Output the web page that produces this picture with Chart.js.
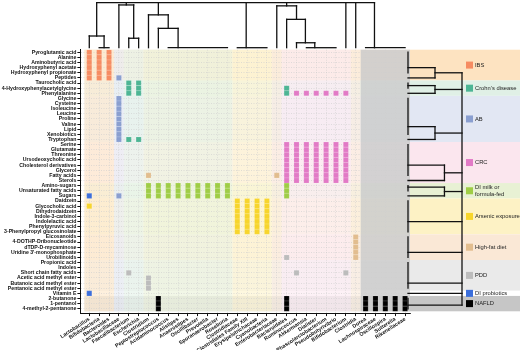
<!DOCTYPE html>
<html lang="en">
<head>
<meta charset="UTF-8">
<title>Bacteria x metabolites</title>
<script src="https://cdn.jsdelivr.net/npm/chart.js"></script>
<style>
    body { margin: 0; background: #fff; }
    #wrap { width: 520px; height: 350px; }
</style>
</head>
<body>
<div id="wrap"><canvas id="grafico"></canvas></div>
<script>
// colunas (bacterias)
const bacterias = ['Lactobacillus', 'Bifidobacteria', 'Bacteroides', 'Lactobacillaceae', 'Faecalibacterium',
    'Escherichia', 'Clostridium', 'Peptostreptococcus', 'Acidaminococcus', 'Alistipes', 'Anaerostipes',
    'Oscillibacter', 'Prevotella', 'Sporanaerobacter', 'Roseburia', 'Clostridiaceae', 'Clostridiales Family XIII',
    'Erysipelotrichaceae', 'Cyanobacteria', 'Enterobacteriaceae', 'Bacteroidales', 'Ruminococcus', 'Akkermansia',
    'Dialister', 'Phascolarctobacterium', 'Pseudobutyrivibrio', 'Bifidobacterium', 'Clostridia', 'Dorea',
    'Lachnospiraceae', 'Oscillospira', 'Sutterella', 'Rikenellaceae'];

// linhas (metabolitos)
const metabolitos = ['Pyroglutamic acid', 'Alanine', 'Aminobutyric acid', 'Hydroxyphenyl acetate',
    'Hydroxyphenyl propionate', 'Peptides', 'Taurocholic acid', '4-Hydroxyphenylacetylglycine', 'Phenylalanine',
    'Glycine', 'Cysteine', 'Isoleucine', 'Leucine', 'Proline', 'Valine', 'Lipid', 'Xenobiotics', 'Tryptophan',
    'Serine', 'Glutamate', 'Threonine', 'Ursodeoxycholic acid', 'Cholesterol derivatives', 'Glycerol',
    'Fatty acids', 'Sterols', 'Amino-sugars', 'Unsaturated fatty acids', 'Sugars', 'Daidzein', 'Glycocholic acid',
    'Dihydrodaidzein', 'Indole-3-carbinol', 'Indolelactic acid', 'Phenylpyruvic acid',
    '3-Phenylpropyl glucosinolate', 'Eicosanoids', '4-DOTHP-Dribonucleotide', 'dTDP-D-mycaminose',
    "Uridine 3'-monophosphate", 'Urobilinoids', 'Propionic acid', 'Indoles', 'Short chain fatty acids',
    'Acetic acid methyl ester', 'Butanoic acid methyl ester', 'Pentanoic acid methyl ester', 'Vitamin E',
    '2-butanone', '1-pentanol', '4-methyl-2-pentanone'];

const grupos = ['IBS', "Crohn's disease", 'AB', 'CRC', 'DI milk or formula-fed', 'Arsenic exposure',
    'High-fat diet', 'PDD', 'DI probiotics', 'NAFLD'];
const coresGrupo = ['#f68c62', '#4db594', '#8a9fd0', '#e27ac6', '#9fcd46', '#f7d52c', '#e2bd8e', '#bcbcbc', '#3b6edb', '#000000'];
const fundoGrupo = ['#fde3c1', '#e0f0e6', '#e2e7f3', '#fbe6ee', '#e8f1d4', '#fdf2c5', '#fae8d6', '#eaeaea', '#ffffff', '#c6c6c6'];

// primeira e ultima linha de cada grupo
const linhasGrupo = [[0, 5], [6, 8], [9, 17], [18, 25], [26, 28], [29, 35], [36, 40], [41, 46], [47, 47], [48, 50]];
// faixas verticais: [primeira coluna, ultima coluna, grupo]
const colunasGrupo = [[0, 2, 0], [3, 3, 2], [4, 5, 1], [6, 14, 4], [15, 18, 5], [19, 19, 6], [20, 26, 3], [27, 27, 6], [28, 32, 9]];

// associacoes: [coluna, [linhas]]
const ibs = [[0, [0, 1, 2, 3, 4, 5]], [1, [0, 1, 2, 3, 4, 5]], [2, [0, 1, 2, 3, 4, 5]]];
const crohn = [[4, [6, 7, 8, 17]], [5, [6, 7, 8, 17]], [20, [7, 8]]];
const ab = [[3, [5, 9, 10, 11, 12, 13, 14, 15, 16, 17, 28]]];
const crc = [[20, [18, 19, 20, 21, 22, 23, 24, 25]], [21, [8, 18, 19, 20, 21, 22, 23, 24, 25]],
    [22, [8, 18, 19, 20, 21, 22, 23, 24, 25]], [23, [8, 18, 19, 20, 21, 22, 23, 24, 25]],
    [24, [8, 18, 19, 20, 21, 22, 23, 24, 25]], [25, [8, 18, 19, 20, 21, 22, 23, 24, 25]],
    [26, [8, 18, 19, 20, 21, 22, 23, 24, 25]]];
const leite = [[6, [26, 27, 28]], [7, [26, 27, 28]], [8, [26, 27, 28]], [9, [26, 27, 28]], [10, [26, 27, 28]],
    [11, [26, 27, 28]], [12, [26, 27, 28]], [13, [26, 27, 28]], [14, [26, 27, 28]], [20, [26, 27, 28]]];
const arsenico = [[0, [30]], [15, [29, 30, 31, 32, 33, 34, 35]], [16, [29, 30, 31, 32, 33, 34, 35]],
    [17, [29, 30, 31, 32, 33, 34, 35]], [18, [29, 30, 31, 32, 33, 34, 35]]];
const gordura = [[6, [24]], [19, [24]], [27, [36, 37, 38, 39, 40]]];
const pdd = [[4, [43]], [6, [44, 45, 46]], [20, [40]], [21, [43]], [26, [43]]];
const probioticos = [[0, [28, 47]]];
const nafld = [[7, [48, 49, 50]], [20, [48, 49, 50]], [28, [48, 49, 50]], [29, [48, 49, 50]],
    [30, [48, 49, 50]], [31, [48, 49, 50]], [32, [48, 49, 50]]];
const associacoes = [ibs, crohn, ab, crc, leite, arsenico, gordura, pdd, probioticos, nafld];

// dendrograma das colunas: segmentos [coluna1, altura1, coluna2, altura2]
const dendroTopo = [
    [1, 0, 2, 0], [0, 0, 0, 0.26], [1.5, 0, 1.5, 0.26], [0, 0.26, 1.5, 0.26], [0.75, 0.26, 0.75, 1],
    [4, 0, 4, 0.21], [5, 0, 5, 0.21], [4, 0.21, 5, 0.21], [3, 0, 3, 0.95], [4.5, 0.21, 4.5, 0.95], [3, 0.95, 4.5, 0.95], [3.75, 0.95, 3.75, 1],
    [8, 0, 14, 0], [9, 0, 9, 0.43], [7, 0, 7, 0.43], [7, 0.43, 9, 0.43], [6, 0, 6, 0.73], [8, 0.43, 8, 0.73], [6, 0.73, 8, 0.73], [7, 0.73, 7, 1],
    [15, 0, 18, 0], [15.9, 0, 15.9, 1],
    [22, 0, 25, 0], [22.85, 0, 22.85, 0.11], [21, 0, 21, 0.11], [21, 0.11, 22.85, 0.11], [20, 0, 20, 0.63], [21.9, 0.11, 21.9, 0.63],
    [20, 0.63, 21.9, 0.63], [19, 0, 19, 0.93], [21, 0.63, 21, 0.93], [19, 0.93, 21, 0.93], [20, 0.93, 20, 1],
    [26, 0, 26, 1], [27, 0, 27, 1],
    [28, 0, 32, 0], [28.9, 0, 28.9, 1],
    [0.75, 1, 28.9, 1]
];

// dendrograma das linhas: [linha1, nivel1, linha2, nivel2], nivel 0 = folha
const dendroLado = [
    [0, 0, 4, 0], [3, 0, 3, 1], [5, 0, 5, 1], [3, 1, 5, 1], [4, 1, 4, 2],
    [6, 0, 7, 0], [6.5, 0, 6.5, 1], [8, 0, 8, 1], [6.5, 1, 8, 1], [7.25, 1, 7.25, 2],
    [9, 0, 16, 0], [14.5, 0, 14.5, 1], [17, 0, 17, 1], [14.5, 1, 17, 1], [15.75, 1, 15.75, 2],
    [18, 0, 24, 0], [22, 0, 22, 1.35], [25, 0, 25, 1.35], [22, 1.35, 25, 1.35], [23.5, 1.35, 23.5, 2],
    [26, 0, 27, 0], [26.3, 0, 26.3, 1.35], [28, 0, 28, 1.35], [26.3, 1.35, 28, 1.35], [27.15, 1.35, 27.15, 2],
    [29, 0, 35, 0], [33, 0, 33, 2],
    [36, 0, 40, 0], [39, 0, 39, 2],
    [41, 0, 46, 0], [45, 0, 45, 2],
    [47, 0, 47, 2],
    [48, 0, 50, 0], [49.3, 0, 49.3, 2],
    [4, 2, 49.3, 2]
];

const pontos = associacoes.map(function (lista) {
    const dados = [];
    lista.forEach(function (item) {
        item[1].forEach(function (linha) { dados.push({ x: item[0], y: linha }); });
    });
    return dados;
});

const fundoPlugin = {
    id: 'fundo',
    beforeDraw(chart) {
        const ctx = chart.ctx;
        const sx = chart.scales.x, sy = chart.scales.y;
        const meiaC = (sx.getPixelForValue(1) - sx.getPixelForValue(0)) / 2;
        const meiaL = (sy.getPixelForValue(1) - sy.getPixelForValue(0)) / 2;
        const x0 = sx.getPixelForValue(0) - meiaC, x1 = sx.getPixelForValue(bacterias.length - 1) + meiaC;
        const yTopo = sy.getPixelForValue(0) - meiaL;
        const yBase = sy.getPixelForValue(metabolitos.length - 1) + meiaL;
        ctx.save();
        // faixas horizontais: painel da direita forte, area do grafico fraca
        linhasGrupo.forEach(function (g, i) {
            const y0 = sy.getPixelForValue(g[0]) - meiaL, y1 = sy.getPixelForValue(g[1]) + meiaL;
            ctx.fillStyle = fundoGrupo[i];
            ctx.fillRect(x1, y0, chart.width - x1, y1 - y0);
            ctx.globalAlpha = 0.45;
            ctx.fillRect(x0, y0, x1 - x0, y1 - y0);
            ctx.globalAlpha = 1;
        });
        // faixas verticais
        colunasGrupo.forEach(function (g) {
            const c0 = sx.getPixelForValue(g[0]) - meiaC, c1 = sx.getPixelForValue(g[1]) + meiaC;
            ctx.globalAlpha = g[2] === 9 ? 0.75 : 0.55;
            ctx.fillStyle = fundoGrupo[g[2]];
            ctx.fillRect(c0, yTopo, c1 - c0, yBase - yTopo);
        });
        ctx.restore();
    },
    afterDraw(chart) {
        const ctx = chart.ctx, a = chart.chartArea;
        const sx = chart.scales.x, sy = chart.scales.y;
        ctx.save();
        ctx.strokeStyle = '#111';
        ctx.lineWidth = 1.3;
        ctx.lineCap = 'square';
        // dendrograma de cima
        const base = a.top - 2, alt = 45;
        dendroTopo.forEach(function (s) {
            ctx.beginPath();
            ctx.moveTo(sx.getPixelForValue(s[0]), base - s[1] * alt);
            ctx.lineTo(sx.getPixelForValue(s[2]), base - s[3] * alt);
            ctx.stroke();
        });
        // dendrograma da direita
        const esq = a.right - 2, passo = 27;
        dendroLado.forEach(function (s) {
            ctx.beginPath();
            ctx.moveTo(esq + s[1] * passo, sy.getPixelForValue(s[0]));
            ctx.lineTo(esq + s[3] * passo, sy.getPixelForValue(s[2]));
            ctx.stroke();
        });
        // legenda
        ctx.font = '5.8px "Liberation Sans", Arial, sans-serif';
        ctx.textBaseline = 'middle';
        linhasGrupo.forEach(function (g, i) {
            const yc = (sy.getPixelForValue(g[0]) + sy.getPixelForValue(g[1])) / 2;
            ctx.fillStyle = coresGrupo[i];
            ctx.fillRect(466, yc - 3.5, 7, 7);
            ctx.fillStyle = '#222';
            const nome = grupos[i];
            if (nome.length > 16) {
                const partes = nome === 'Arsenic exposure' ? ['Arsenic', 'exposure'] : ['DI milk or', 'formula-fed'];
                ctx.fillText(partes[0], 475, yc - 3.3);
                ctx.fillText(partes[1], 475, yc + 3.3);
            } else {
                ctx.fillText(nome, 475, yc);
            }
        });
        ctx.restore();
    }
};

const datasets = pontos.map(function (dados, i) {
    return {
        label: grupos[i],
        data: dados,
        pointStyle: 'rect',
        pointRadius: 3.6,
        backgroundColor: coresGrupo[i],
        borderColor: 'rgba(255,255,255,0.35)',
        borderWidth: 0.4
    };
});

new Chart(document.getElementById('grafico'), {
    type: 'scatter',
    data: { datasets: datasets },
    plugins: [fundoPlugin],
    options: {
        responsive: true,
        maintainAspectRatio: false,
        animation: false,
        layout: { padding: { top: 49.7, right: 110, left: 0, bottom: 0 } },
        plugins: { legend: { display: false }, tooltip: { enabled: false } },
        scales: {
            x: {
                type: 'linear',
                min: -0.9, max: 32.5,
                afterBuildTicks: function (s) { s.ticks = bacterias.map(function (_, i) { return { value: i }; }); },
                afterFit: function (s) { s.height = 36.9; },
                ticks: {
                    autoSkip: false, minRotation: 33, maxRotation: 33, padding: 0,
                    color: '#111', font: { family: '"Liberation Sans", Arial, sans-serif', size: 5.3, weight: 'bold' },
                    callback: function (v) { return bacterias[v]; }
                },
                grid: { color: '#cfcfcf', lineWidth: 0.6, tickColor: '#111', tickLength: 3, tickWidth: 1 },
                border: { color: '#111', width: 1, dash: [1, 1.5] }
            },
            y: {
                type: 'linear',
                reverse: true,
                min: -0.5, max: 50.85,
                afterBuildTicks: function (s) { s.ticks = metabolitos.map(function (_, i) { return { value: i }; }); },
                afterFit: function (s) { s.width = 80.4; },
                ticks: {
                    autoSkip: false, padding: 1,
                    color: '#111', font: { family: '"Liberation Sans", Arial, sans-serif', size: 5.2, weight: 'bold' },
                    callback: function (v) { return metabolitos[v]; }
                },
                grid: { color: '#cfcfcf', lineWidth: 0.6, tickColor: '#111', tickLength: 3, tickWidth: 1 },
                border: { color: '#111', width: 1, dash: [1, 1.5] }
            }
        }
    }
});
</script>
</body>
</html>
